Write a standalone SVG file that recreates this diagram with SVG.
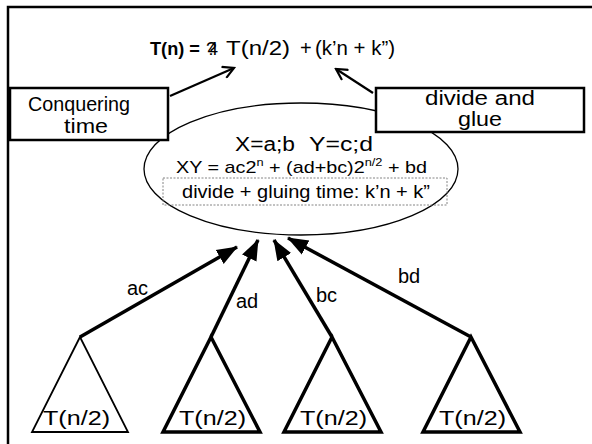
<svg xmlns="http://www.w3.org/2000/svg" width="592" height="444" viewBox="0 0 592 444">
<defs>
<marker id="open" markerWidth="14" markerHeight="14" refX="12" refY="7" orient="auto" markerUnits="userSpaceOnUse">
<path d="M1,1 L12,7 L1,13" fill="none" stroke="#000" stroke-width="2.2"/>
</marker>
<marker id="solid" markerWidth="22" markerHeight="18" refX="20" refY="9" orient="auto" markerUnits="userSpaceOnUse">
<path d="M0,1 L21,9 L0,17 Z" fill="#000"/>
</marker>
<style>
text{font-family:"Liberation Sans","DejaVu Sans",sans-serif;fill:#000}
.box{fill:#fff;stroke:#000;stroke-width:2.5}
.tri{fill:#fff;stroke:#000;stroke-width:3.5;stroke-linejoin:miter}
.thin{stroke-width:1.8}
.up{stroke:#000;stroke-width:3.5;fill:none;marker-end:url(#solid)}
.pt{stroke:#000;stroke-width:2.2;fill:none;marker-end:url(#open)}
.lbl{font-size:20px}
.tn{font-size:20px}
</style>
</defs>
<rect width="592" height="444" fill="#fff"/>
<path d="M8,444 L8,7 L592,7" fill="none" stroke="#000" stroke-width="2.5"/>

<g id="title">
<text x="150" y="55" font-size="19" font-weight="bold" textLength="50" lengthAdjust="spacingAndGlyphs">T(n) =</text>
<text x="206" y="55" font-size="19">?<tspan dx="-9">4</tspan></text>
<text x="226" y="55" font-size="20" textLength="64" lengthAdjust="spacingAndGlyphs">T(n/2)</text>
<text x="300" y="55" font-size="20">+</text>
<text x="315" y="55" font-size="20" textLength="80" lengthAdjust="spacingAndGlyphs">(k’n + k”)</text>
</g>

<g id="ellipse-node">
<ellipse cx="301" cy="169" rx="157" ry="66" fill="#fff" stroke="#000" stroke-width="1.3"/>
<text x="235" y="151" font-size="20" textLength="60" lengthAdjust="spacingAndGlyphs">X=a;b</text>
<text x="309" y="151" font-size="20" textLength="64" lengthAdjust="spacingAndGlyphs">Y=c;d</text>
<text x="176" y="173" font-size="17" textLength="251" lengthAdjust="spacingAndGlyphs">XY = ac2<tspan font-size="11" dy="-7">n</tspan><tspan dy="7"> + (ad+bc)2</tspan><tspan font-size="11" dy="-7">n/2</tspan><tspan dy="7"> + bd</tspan></text>
<rect x="163" y="178" width="284" height="27" fill="none" stroke="#777" stroke-width="0.9" stroke-dasharray="2,1.5"/>
<text x="182" y="198" font-size="18" textLength="248" lengthAdjust="spacingAndGlyphs">divide + gluing time: k’n + k”</text>
</g>

<g id="conquering">
<rect class="box" x="10" y="88" width="158" height="52"/>
<text x="28" y="111" font-size="20" textLength="102" lengthAdjust="spacingAndGlyphs">Conquering</text>
<text x="86" y="133" font-size="20" text-anchor="middle" textLength="44" lengthAdjust="spacingAndGlyphs">time</text>
</g>

<g id="divide">
<rect class="box" x="376" y="88" width="208" height="44"/>
<text x="425" y="105" font-size="20" textLength="110" lengthAdjust="spacingAndGlyphs">divide and</text>
<text x="480" y="126" font-size="20" text-anchor="middle" textLength="44" lengthAdjust="spacingAndGlyphs">glue</text>
</g>

<g id="t1"><path class="tri thin" d="M80,337 L32,432 L128,432 Z"/><text class="tn" x="43" y="425" textLength="67" lengthAdjust="spacingAndGlyphs">T(n/2)</text></g>
<g id="t2"><path class="tri" d="M211,337 L163,432 L260,432 Z"/><text class="tn" x="179" y="425" textLength="67" lengthAdjust="spacingAndGlyphs">T(n/2)</text></g>
<g id="t3"><path class="tri" d="M332,337 L284,432 L381,432 Z"/><text class="tn" x="300" y="425" textLength="67" lengthAdjust="spacingAndGlyphs">T(n/2)</text></g>
<g id="t4"><path class="tri" d="M471,337 L423,432 L520,432 Z"/><text class="tn" x="439" y="425" textLength="67" lengthAdjust="spacingAndGlyphs">T(n/2)</text></g>

<g id="connectors">
<line class="pt" x1="170" y1="96" x2="234" y2="68"/>
<line class="pt" x1="373" y1="93" x2="336" y2="69"/>
<line class="up" x1="80" y1="337" x2="237" y2="247"/>
<line class="up" x1="211" y1="337" x2="258" y2="240"/>
<line class="up" x1="332" y1="337" x2="274" y2="240"/>
<line class="up" x1="471" y1="337" x2="288" y2="238"/>
<text class="lbl" x="127" y="295">ac</text>
<text class="lbl" x="236" y="308">ad</text>
<text class="lbl" x="316" y="302">bc</text>
<text class="lbl" x="398" y="283">bd</text>
</g>
</svg>
